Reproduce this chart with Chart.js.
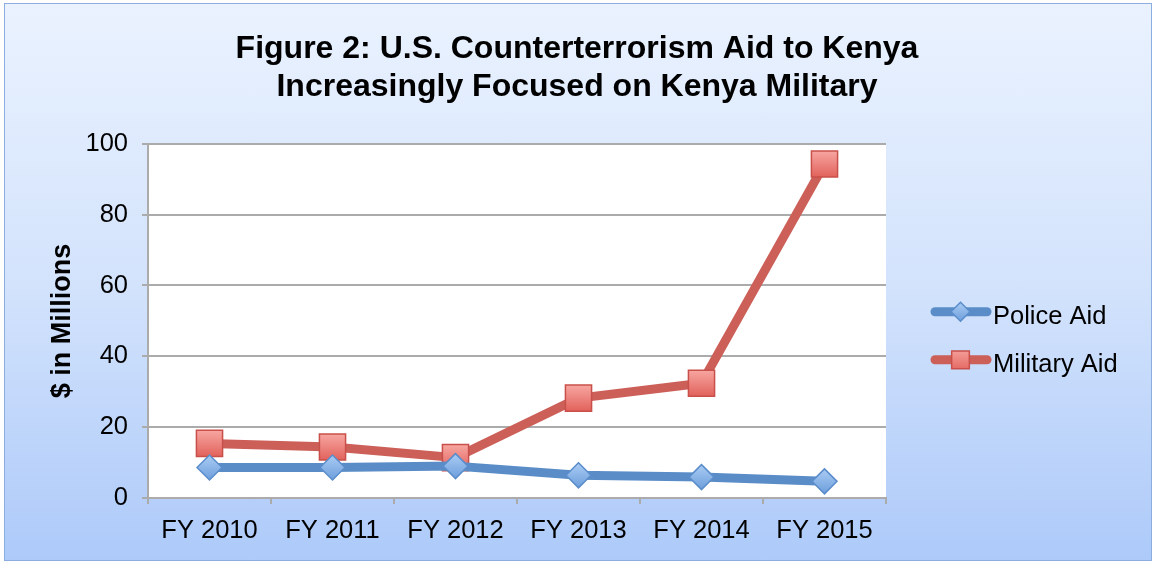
<!DOCTYPE html>
<html>
<head>
<meta charset="utf-8">
<script src="https://cdn.jsdelivr.net/npm/chart.js@4/dist/chart.umd.min.js"></script>
<style>
  html, body { margin: 0; padding: 0; overflow: hidden; background: #fff; }
  #frame {
    position: absolute; left: 4px; top: 3px; width: 1146px; height: 556px;
    border: 1px solid #8CADDF;
    background: linear-gradient(to bottom, #EAF2FE 0%, #D3E3FC 50%, #ADCAF9 100%);
  }
  #myChart { position: absolute; left: 0; top: 0; }
</style>
</head>
<body>
<div id="frame"></div>
<canvas id="myChart" width="1154" height="562"></canvas>
<script>
// Figure 2: U.S. Counterterrorism Aid to Kenya — Chart.js line chart

const years = ['FY 2010', 'FY 2011', 'FY 2012', 'FY 2013', 'FY 2014', 'FY 2015'];
const policeAid = [8.6, 8.6, 9.0, 6.4, 5.9, 4.7];
const militaryAid = [15.4, 14.4, 11.4, 28.2, 32.4, 94.3];
const yTicks = [0, 20, 40, 60, 80, 100];

const FONT = "'Liberation Sans', Arial, Helvetica, sans-serif";
const GRID = '#ABABAB';

Chart.defaults.font.family = FONT;
Chart.defaults.color = '#000';

// vertical gradient fill for a marker, light on top
function markerFill(light, dark, r) {
    return ctx => {
        if (ctx.type !== 'data' || !ctx.parsed) return dark;
        const y = ctx.chart.scales.y.getPixelForValue(ctx.parsed.y);
        if (!isFinite(y)) return dark;
        const g = ctx.chart.ctx.createLinearGradient(0, y - r, 0, y + r);
        g.addColorStop(0, light);
        g.addColorStop(1, dark);
        return g;
    };
}

// white plot area on top of the blue gradient
const plotBg = {
    id: 'plotBg',
    beforeDraw(chart) {
        const { ctx, chartArea: { left, top, width, height } } = chart;
        ctx.save();
        ctx.fillStyle = '#fff';
        ctx.fillRect(left, top, width, height);
        ctx.restore();
    }
};

// legend on the right: a layout box of fixed width, line + marker like the original
const sideLegend = {
    id: 'sideLegend',
    beforeInit(chart) {
        const box = {
            position: 'right',
            weight: 0,
            fullSize: false,
            options: {},
            isHorizontal: () => false,
            update(maxW, maxH) { box.width = 268; box.height = maxH; },
            draw() {
                const ctx = chart.ctx;
                chart.data.datasets.forEach((ds, i) => {
                    const y = box.top + 168 + i * 48;
                    const x0 = box.left + 49, x1 = box.left + 101;
                    ctx.save();
                    ctx.strokeStyle = ds.borderColor;
                    ctx.lineWidth = 9;
                    ctx.lineCap = 'round';
                    ctx.beginPath(); ctx.moveTo(x0, y); ctx.lineTo(x1, y); ctx.stroke();
                    const r = ds.pointStyle === 'rect' ? 12.5 : 9.5;
                    const g = ctx.createLinearGradient(0, y - r, 0, y + r);
                    g.addColorStop(0, ds._light); g.addColorStop(1, ds._dark);
                    ctx.fillStyle = g;
                    ctx.strokeStyle = ds.pointBorderColor;
                    ctx.lineWidth = 1.5;
                    Chart.helpers.drawPoint(ctx, {
                        pointStyle: ds.pointStyle, rotation: 0, radius: r, borderWidth: 1.5
                    }, box.left + 74.5, y);
                    ctx.fillStyle = '#000';
                    ctx.font = '25.5px ' + FONT;
                    ctx.textAlign = 'left';
                    ctx.textBaseline = 'middle';
                    ctx.fillText(ds.label, box.left + 107, y + 5);
                    ctx.restore();
                });
            }
        };
        Chart.layouts.addBox(chart, box);
    }
};

new Chart(document.getElementById('myChart'), {
    type: 'line',
    data: {
        labels: years,
        datasets: [
            {
                label: 'Police Aid',
                data: policeAid,
                _light: '#A9CBF3', _dark: '#6E9FDC',
                borderColor: '#5A8DC8',
                borderWidth: 9,
                pointStyle: 'rectRot',
                pointRadius: 12.5,
                pointHoverRadius: 12.5,
                pointBackgroundColor: markerFill('#A9CBF3', '#6E9FDC', 12),
                pointBorderColor: '#5B8DCB',
                pointBorderWidth: 1.5,
                borderJoinStyle: 'round',
                borderCapStyle: 'round',
                tension: 0
            },
            {
                label: 'Military Aid',
                data: militaryAid,
                _light: '#F7A6A1', _dark: '#E2625C',
                borderColor: '#CC5F58',
                borderWidth: 9,
                pointStyle: 'rect',
                pointRadius: 18.5,
                pointHoverRadius: 18.5,
                pointBackgroundColor: markerFill('#F7A6A1', '#E2625C', 13),
                pointBorderColor: '#C9504A',
                pointBorderWidth: 1.5,
                borderJoinStyle: 'round',
                borderCapStyle: 'round',
                tension: 0
            }
        ]
    },
    options: {
        responsive: false,
        animation: false,
        layout: { padding: 0 },
        scales: {
            x: {
                offset: true,
                grid: { display: true, offset: true, drawOnChartArea: false, drawTicks: true, tickLength: 6, color: GRID, lineWidth: 2 },
                border: { display: true, color: GRID, width: 2 },
                ticks: { font: { size: 25.5 }, padding: 12, color: '#000', maxRotation: 0 },
                afterFit(scale) { scale.height = 64; }
            },
            y: {
                min: 0, max: 100,
                afterBuildTicks(scale) { scale.ticks = yTicks.map(v => ({ value: v })); },
                grid: { color: GRID, lineWidth: 2, tickLength: 6 },
                border: { display: true, color: GRID, width: 2 },
                ticks: { font: { size: 25.5 }, padding: 14, color: '#000' },
                title: {
                    display: true, text: '$ in Millions',
                    font: { size: 27, weight: 'bold' }, color: '#000',
                    padding: { top: 46, bottom: 0 }
                },
                afterFit(scale) { scale.width = 148; }
            }
        },
        plugins: {
            legend: { display: false },
            tooltip: { enabled: false },
            title: {
                display: true,
                text: ['Figure 2: U.S. Counterterrorism Aid to Kenya', 'Increasingly Focused on Kenya Military'],
                font: { size: 32, weight: 'bold', lineHeight: 1.2 },
                color: '#000',
                padding: { top: 30, bottom: 37 }
            }
        }
    },
    plugins: [plotBg, sideLegend]
});
</script>
</body>
</html>
